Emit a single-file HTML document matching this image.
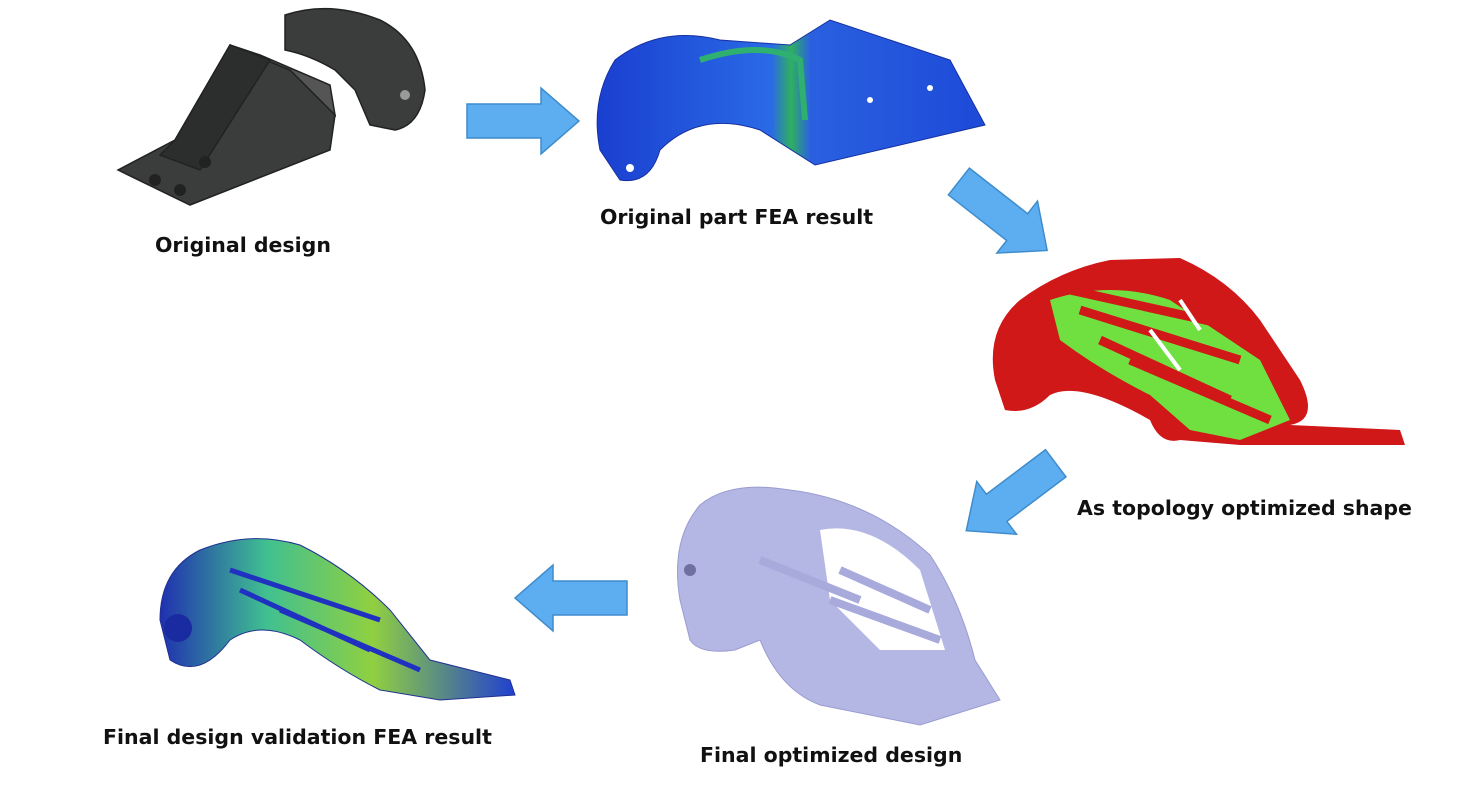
<!DOCTYPE html>
<html><head><meta charset="utf-8"><style>
html,body{margin:0;padding:0;background:#fff;width:1469px;height:810px;overflow:hidden}
.l{position:absolute;font-family:"DejaVu Sans","Liberation Sans",sans-serif;font-weight:bold;font-size:20.5px;color:#111;white-space:nowrap}
</style></head><body>
<svg width="1469" height="810" style="position:absolute;left:0;top:0">
<defs>
<polygon id="ar" points="-56,-17 18,-17 18,-33 56,0 18,33 18,17 -56,17" fill="#5caef0" stroke="#3f8ccc" stroke-width="1.5"/>
<linearGradient id="gb" x1="0" x2="1"><stop offset="0" stop-color="#1a3fd0"/><stop offset="0.45" stop-color="#2a6ae6"/><stop offset="0.5" stop-color="#2fb060"/><stop offset="0.55" stop-color="#2a60e0"/><stop offset="1" stop-color="#1d4ad8"/></linearGradient>
<linearGradient id="gv" x1="0" x2="1"><stop offset="0" stop-color="#2030b0"/><stop offset="0.3" stop-color="#40c090"/><stop offset="0.6" stop-color="#90d040"/><stop offset="1" stop-color="#2040d0"/></linearGradient>
</defs>
<use href="#ar" transform="translate(523,121)"/>
<use href="#ar" transform="translate(1003,216) rotate(38)"/>
<use href="#ar" transform="translate(1011,497) rotate(143)"/>
<use href="#ar" transform="translate(571,598) rotate(180)"/>

<g fill="#3a3d3c" stroke="#222" stroke-width="1.5">
<polygon points="118,170 190,205 330,150 335,115 290,70 230,45 175,140"/>
<polygon points="230,45 260,55 330,85 335,115 290,70" fill="#555"/>
<path d="M285,15 Q330,0 380,20 Q420,40 425,90 Q420,125 395,130 L370,125 L355,90 L335,70 Q310,55 285,50 Z"/>
<polygon points="160,155 175,140 230,45 270,60 200,170" fill="#2c2e2d"/>
</g>
<circle cx="155" cy="180" r="6" fill="#222"/><circle cx="205" cy="162" r="6" fill="#222"/><circle cx="180" cy="190" r="6" fill="#222"/>
<circle cx="405" cy="95" r="5" fill="#999"/>

<path d="M600,150 Q590,100 615,60 Q660,25 720,40 L790,45 L830,20 L950,60 L985,125 L815,165 L760,130 Q700,110 660,150 Q650,185 620,180 Z" fill="url(#gb)" stroke="#1530a0"/>
<path d="M700,60 Q760,40 800,60 L805,120" fill="none" stroke="#30b070" stroke-width="6"/>
<circle cx="630" cy="168" r="4" fill="#fff"/><circle cx="930" cy="88" r="3" fill="#fff"/><circle cx="870" cy="100" r="3" fill="#fff"/>

<path d="M995,380 Q985,330 1020,300 Q1060,270 1110,260 L1180,258 Q1230,280 1260,320 L1300,380 Q1320,420 1290,425 L1400,430 L1405,445 L1240,445 L1180,440 Q1160,445 1150,420 Q1080,380 1050,395 Q1030,415 1005,410 Z" fill="#d01818"/>
<path d="M1050,300 Q1110,280 1170,300 L1260,360 L1290,420 L1240,440 L1190,430 L1150,395 Q1100,370 1060,340 Z" fill="#70e040"/>
<path d="M1070,290 L1250,330 M1080,310 L1240,360 M1100,340 L1230,400 M1130,360 L1270,420" stroke="#d01818" stroke-width="9"/>
<path d="M1180,300 L1200,330 M1150,330 L1180,370" stroke="#fff" stroke-width="4"/>

<path d="M680,600 Q670,540 700,505 Q730,480 790,490 Q870,500 930,555 Q960,600 975,660 L1000,700 L920,725 L820,705 Q780,690 760,640 L735,650 Q700,655 690,640 Z" fill="#b4b6e4" stroke="#9a9cd0"/>
<path d="M820,530 Q870,520 920,570 L945,650 L880,650 L830,600 Z" fill="#fff"/>
<path d="M840,570 L930,610 M830,600 L940,640 M760,560 L860,600" stroke="#a8aadc" stroke-width="8"/>
<circle cx="690" cy="570" r="6" fill="#7070a0"/>

<path d="M160,620 Q160,570 200,550 Q250,530 300,545 Q350,570 390,610 L430,660 L510,680 L515,695 L440,700 L380,690 Q340,670 300,640 Q260,620 230,640 Q200,680 170,660 Z" fill="url(#gv)" stroke="#203090"/>
<path d="M230,570 L380,620 M240,590 L370,650 M280,610 L420,670" stroke="#2030c0" stroke-width="5"/>
<circle cx="178" cy="628" r="14" fill="#1a2aa0"/>
</svg>
<div class="l" style="left:155px;top:233px">Original design</div>
<div class="l" style="left:600px;top:205px">Original part FEA result</div>
<div class="l" style="left:1077px;top:496px">As topology optimized shape</div>
<div class="l" style="left:700px;top:743px">Final optimized design</div>
<div class="l" style="left:103px;top:725px">Final design validation FEA result</div>
</body></html>
